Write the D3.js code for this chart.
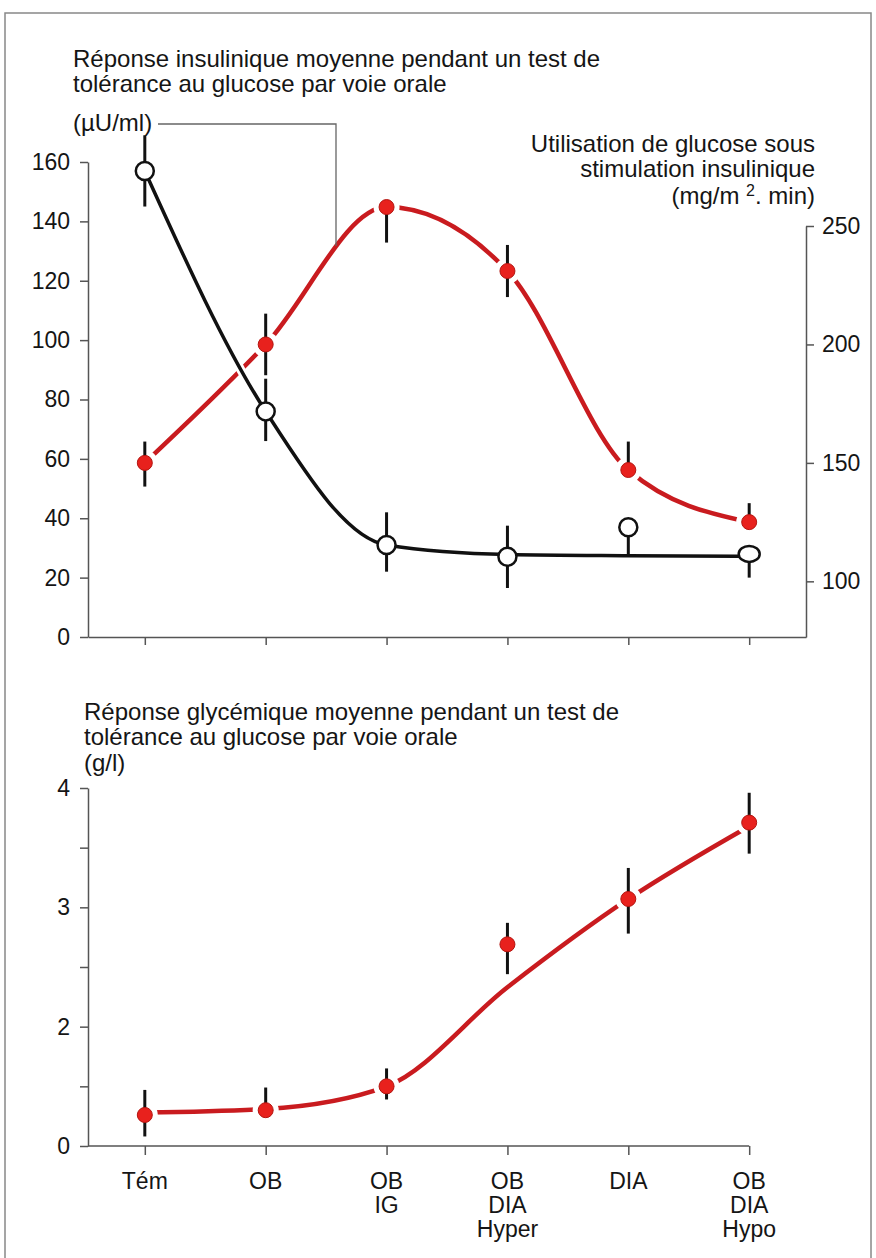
<!DOCTYPE html>
<html>
<head>
<meta charset="utf-8">
<script src="https://cdn.jsdelivr.net/npm/d3@7"></script>
<style>
  body { margin: 0; background: #fff; }
  svg text { font-family: "Liberation Sans", Arial, Helvetica, sans-serif; fill: #151515; }
  .axis path, .axis line { stroke: #555; stroke-width: 1.5; }
  .axis text { font-size: 23px; fill: #151515; font-family: "Liberation Sans", Arial, sans-serif; }
</style>
</head>
<body>
<svg id="chart" width="876" height="1258"></svg>
<script>
// groups on the x axis
var categories = ["Tém", "OB", "OB IG", "OB DIA Hyper", "DIA", "OB DIA Hypo"];
var catLabels = [["Tém"], ["OB"], ["OB", "IG"], ["OB", "DIA", "Hyper"], ["DIA"], ["OB", "DIA", "Hypo"]];

// insulin response (µU/ml), open circles, left axis
var insulin = [157, 76, 31, 27, 37, 28];
var insulinErrUp = [12, 11, 11, 10.5, 0, 0];
var insulinErrDown = [12, 10, 9, 10.5, 9.5, 8];
var insulinFit = [157, 76, 31, 27.8, 27.4, 27.2];

// glucose use under insulin (mg/m2.min), red dots, right axis
var glucUse = [150, 200, 258, 231, 147, 125];
var glucErrUp = [9, 13, 0, 11, 12, 8];
var glucErrDown = [10, 13, 15, 11, 0, 0];

// glycemic response (g/l), bottom chart
var glycemia = [1.26, 1.30, 1.50, 2.69, 3.07, 3.71];
var glyErrUp = [0.21, 0.19, 0.15, 0.18, 0.26, 0.25];
var glyErrDown = [0.18, 0, 0.11, 0.25, 0.29, 0.26];
var glyFit = [1.28, 1.31, 1.50, 2.33, 3.07, 3.68];

// ticks
var insTicks = [0, 20, 40, 60, 80, 100, 120, 140, 160];
var useTicks = [100, 150, 200, 250];
var glyTicks = [1, 1.5, 2, 2.5, 3, 3.5, 4];
var glyTickLabels = ["0", "", "2", "", "3", "", "4"];

var red = "#c91b1f";
var dotRed = "#e8211d";

var svg = d3.select("#chart");

// frame
svg.append("rect")
  .attr("x", 5).attr("y", 13).attr("width", 866).attr("height", 1260)
  .attr("fill", "none").attr("stroke", "#888").attr("stroke-width", 1.5);

var x = d3.scalePoint().domain(categories).range([88, 806]).padding(0.47);

// ---------------- top chart ----------------
var box = {t: 162, b: 637, l: 88, r: 806};
var yIns = d3.scaleLinear().domain([0, 160]).range([box.b, box.t]);
var yUse = d3.scaleLinear().domain([76.5, 250]).range([box.b, 226]);

var gTop = svg.append("g");

gTop.append("g").attr("class", "axis")
  .attr("transform", "translate(0," + box.b + ")")
  .call(d3.axisBottom(x).tickSize(8).tickSizeOuter(0).tickFormat(""));

gTop.append("g").attr("class", "axis")
  .attr("transform", "translate(" + box.l + ",0)")
  .call(d3.axisLeft(yIns).tickValues(insTicks).tickSize(8).tickPadding(10).tickSizeOuter(0));

gTop.append("g").attr("class", "axis")
  .attr("transform", "translate(" + box.r + ",0)")
  .call(d3.axisRight(yUse).tickValues(useTicks).tickSize(8).tickPadding(8).tickSizeOuter(0));

// titles
var t1 = svg.append("text").attr("x", 73).attr("y", 67).style("font-size", "24px");
t1.append("tspan").text("Réponse insulinique moyenne pendant un test de");
t1.append("tspan").attr("x", 73).attr("dy", 25).text("tolérance au glucose par voie orale");
svg.append("text").attr("x", 73).attr("y", 131).style("font-size", "24px").text("(µU/ml)");

var t2 = svg.append("text").attr("text-anchor", "end").style("font-size", "24px");
t2.append("tspan").attr("x", 815).attr("y", 152).text("Utilisation de glucose sous");
t2.append("tspan").attr("x", 815).attr("y", 177).text("stimulation insulinique");
var t2c = t2.append("tspan").attr("x", 815).attr("y", 204);
t2c.text("(mg/m ");
t2.append("tspan").attr("dy", -8).style("font-size", "16px").text("2");
t2.append("tspan").attr("dy", 8).text(". min)");

var lineIns = d3.line().x(function(d, i) { return x(categories[i]); })
  .y(function(d) { return yIns(d); }).curve(d3.curveMonotoneX);
var lineUse = d3.line().x(function(d, i) { return x(categories[i]); })
  .y(function(d) { return yUse(d); }).curve(d3.curveMonotoneX);

// red curve
var usePath = gTop.append("path").attr("d", lineUse(glucUse))
  .attr("fill", "none").attr("stroke", red).attr("stroke-width", 4.5).attr("stroke-linecap", "round");

// leader from (µU/ml) down to the red curve
var node = usePath.node(), len = node.getTotalLength(), lx = 336, hit = null;
for (var s = 0; s <= len; s += 0.5) {
  var p = node.getPointAtLength(s);
  if (p.x >= lx) { hit = p; break; }
}
gTop.append("path")
  .attr("d", "M158,124H" + lx + "V" + (hit ? hit.y : 218))
  .attr("fill", "none").attr("stroke", "#666").attr("stroke-width", 1.3);

// black curve with white casing
gTop.append("path").attr("d", lineIns(insulinFit))
  .attr("fill", "none").attr("stroke", "#fff").attr("stroke-width", 9);
gTop.append("path").attr("d", lineIns(insulinFit))
  .attr("fill", "none").attr("stroke", "#111").attr("stroke-width", 3.5);

// halos around red dots
gTop.selectAll(".halo").data(glucUse).enter().append("circle")
  .attr("cx", function(d, i) { return x(categories[i]); })
  .attr("cy", function(d) { return yUse(d); })
  .attr("r", 13).attr("fill", "#fff");

// error bars
gTop.selectAll(".errU").data(glucUse).enter().append("line")
  .attr("x1", function(d, i) { return x(categories[i]); })
  .attr("x2", function(d, i) { return x(categories[i]); })
  .attr("y1", function(d, i) { return yUse(d + glucErrUp[i]); })
  .attr("y2", function(d, i) { return yUse(d - glucErrDown[i]); })
  .attr("stroke", "#111").attr("stroke-width", 3);
gTop.selectAll(".errI").data(insulin).enter().append("line")
  .attr("x1", function(d, i) { return x(categories[i]); })
  .attr("x2", function(d, i) { return x(categories[i]); })
  .attr("y1", function(d, i) { return yIns(d + insulinErrUp[i]); })
  .attr("y2", function(d, i) { return yIns(d - insulinErrDown[i]); })
  .attr("stroke", "#111").attr("stroke-width", 3);

gTop.selectAll(".dotU").data(glucUse).enter().append("circle")
  .attr("cx", function(d, i) { return x(categories[i]); })
  .attr("cy", function(d) { return yUse(d); })
  .attr("r", 7.5).attr("fill", dotRed).attr("stroke", "#b3140f").attr("stroke-width", 1);

gTop.selectAll(".dotI").data(insulin).enter().append("ellipse")
  .attr("cx", function(d, i) { return x(categories[i]); })
  .attr("cy", function(d) { return yIns(d); })
  .attr("rx", function(d, i) { return i === insulin.length - 1 ? 10.5 : 9; })
  .attr("ry", function(d, i) { return i === insulin.length - 1 ? 8 : 9; })
  .attr("fill", "#fff").attr("stroke", "#111").attr("stroke-width", 2.5);

// ---------------- bottom chart ----------------
var bot = {t: 788, b: 1146, l: 88};
var yGly = d3.scaleLinear().domain([1, 4]).range([bot.b, bot.t]);
var gBot = svg.append("g");

var t3 = svg.append("text").attr("x", 84).attr("y", 720).style("font-size", "24px");
t3.append("tspan").text("Réponse glycémique moyenne pendant un test de");
t3.append("tspan").attr("x", 84).attr("dy", 25).text("tolérance au glucose par voie orale");
t3.append("tspan").attr("x", 84).attr("dy", 26).text("(g/l)");

gBot.append("g").attr("class", "axis")
  .attr("transform", "translate(" + bot.l + ",0)")
  .call(d3.axisLeft(yGly).tickValues(glyTicks).tickSize(8).tickPadding(10).tickSizeOuter(0)
    .tickFormat(function(d, i) { return glyTickLabels[i]; }));

var xAx = gBot.append("g").attr("class", "axis")
  .attr("transform", "translate(0," + bot.b + ")")
  .call(d3.axisBottom(x).tickSize(9).tickSizeOuter(0).tickFormat(""));
xAx.select(".domain").attr("d", "M" + bot.l + ",0H" + x(categories[categories.length - 1]));

// multi-line category labels
gBot.selectAll(".catLab").data(catLabels).enter().append("text")
  .attr("text-anchor", "middle").style("font-size", "23px")
  .attr("transform", function(d, i) { return "translate(" + x(categories[i]) + "," + (bot.b + 43) + ")"; })
  .each(function(d) {
    var t = d3.select(this);
    d.forEach(function(s, j) {
      t.append("tspan").attr("x", 0).attr("y", j * 24).text(s);
    });
  });

var lineGly = d3.line().x(function(d, i) { return x(categories[i]); })
  .y(function(d) { return yGly(d); }).curve(d3.curveMonotoneX);

gBot.append("path").attr("d", lineGly(glyFit))
  .attr("fill", "none").attr("stroke", red).attr("stroke-width", 4.5).attr("stroke-linecap", "round");

gBot.selectAll(".halo").data(glycemia).enter().append("circle")
  .attr("cx", function(d, i) { return x(categories[i]); })
  .attr("cy", function(d) { return yGly(d); })
  .attr("r", 13).attr("fill", "#fff");

gBot.selectAll(".err").data(glycemia).enter().append("line")
  .attr("x1", function(d, i) { return x(categories[i]); })
  .attr("x2", function(d, i) { return x(categories[i]); })
  .attr("y1", function(d, i) { return yGly(d + glyErrUp[i]); })
  .attr("y2", function(d, i) { return yGly(d - glyErrDown[i]); })
  .attr("stroke", "#111").attr("stroke-width", 3);

gBot.selectAll(".dot").data(glycemia).enter().append("circle")
  .attr("cx", function(d, i) { return x(categories[i]); })
  .attr("cy", function(d) { return yGly(d); })
  .attr("r", 7.5).attr("fill", dotRed).attr("stroke", "#b3140f").attr("stroke-width", 1);
</script>
</body>
</html>
